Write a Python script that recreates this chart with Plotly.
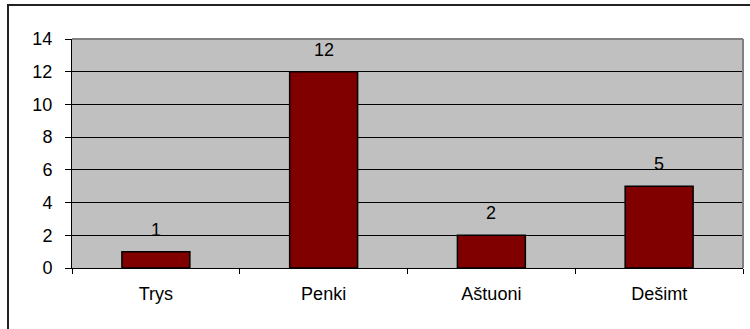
import plotly.graph_objects as go

categories = ["Trys", "Penki", "Aštuoni", "Dešimt"]
values = [1, 12, 2, 5]
y_ticks = [0, 2, 4, 6, 8, 10, 12, 14]

FONT = "Liberation Sans, Arial, sans-serif"
FS = 18

fig = go.Figure()
fig.add_trace(go.Bar(
    x=categories, y=values,
    marker=dict(color="#800000", line=dict(color="#000000", width=1.5)),
    width=0.405,
    hoverinfo="skip",
))

for c, v in zip(categories, values):
    fig.add_annotation(x=c, y=v, text=str(v), showarrow=False,
                       yanchor="middle", yshift=22,
                       font=dict(family=FONT, size=FS, color="#000000"))

L, R, T, B = 72, 7, 39, 61
W, H = 750, 329
pw, ph = W - L - R, H - T - B

fig.update_layout(
    width=W, height=H,
    margin=dict(l=L, r=R, t=T, b=B, pad=0),
    paper_bgcolor="#FFFFFF",
    plot_bgcolor="#C0C0C0",
    showlegend=False,
    font=dict(family=FONT, size=FS, color="#000000"),
    bargap=0.595,
)
fig.update_xaxes(
    type="category", range=[-0.5, 3.5],
    showgrid=False, showline=True, linecolor="#000000", linewidth=1,
    ticks="outside", ticklen=5, tickcolor="#000000", tickwidth=1,
    tickson="boundaries", ticklabelstandoff=9,
    tickfont=dict(family=FONT, size=FS, color="#000000"),
    fixedrange=True,
)
fig.update_yaxes(
    range=[0, 14], tickvals=y_ticks,
    showgrid=True, gridcolor="#000000", gridwidth=1,
    showline=True, linecolor="#000000", linewidth=1,
    zeroline=False,
    ticks="outside", ticklen=6, tickcolor="#000000", tickwidth=1,
    ticklabelstandoff=9,
    tickfont=dict(family=FONT, size=FS, color="#000000"),
    fixedrange=True,
)

# plot area border (gray on top/right)
fig.add_shape(type="line", xref="paper", yref="paper", x0=0, x1=1, y0=1, y1=1,
              line=dict(color="#808080", width=2), layer="above")
fig.add_shape(type="line", xref="paper", yref="paper", x0=1, x1=1, y0=0, y1=1,
              line=dict(color="#808080", width=2), layer="above")

# outer chart frame
fig.add_shape(type="rect", xref="paper", yref="paper",
              x0=(8 - L) / pw, x1=(W + 20 - L) / pw,
              y0=-(H + 20 - (H - B)) / ph, y1=((H - B) - 5) / ph,
              line=dict(color="#222222", width=2), fillcolor="rgba(0,0,0,0)",
              layer="below")

fig.write_html(
    "out.html",
    config={"displayModeBar": False, "staticPlot": True},
    post_script="document.body.style.margin='0';document.body.style.overflow='hidden';",
)
